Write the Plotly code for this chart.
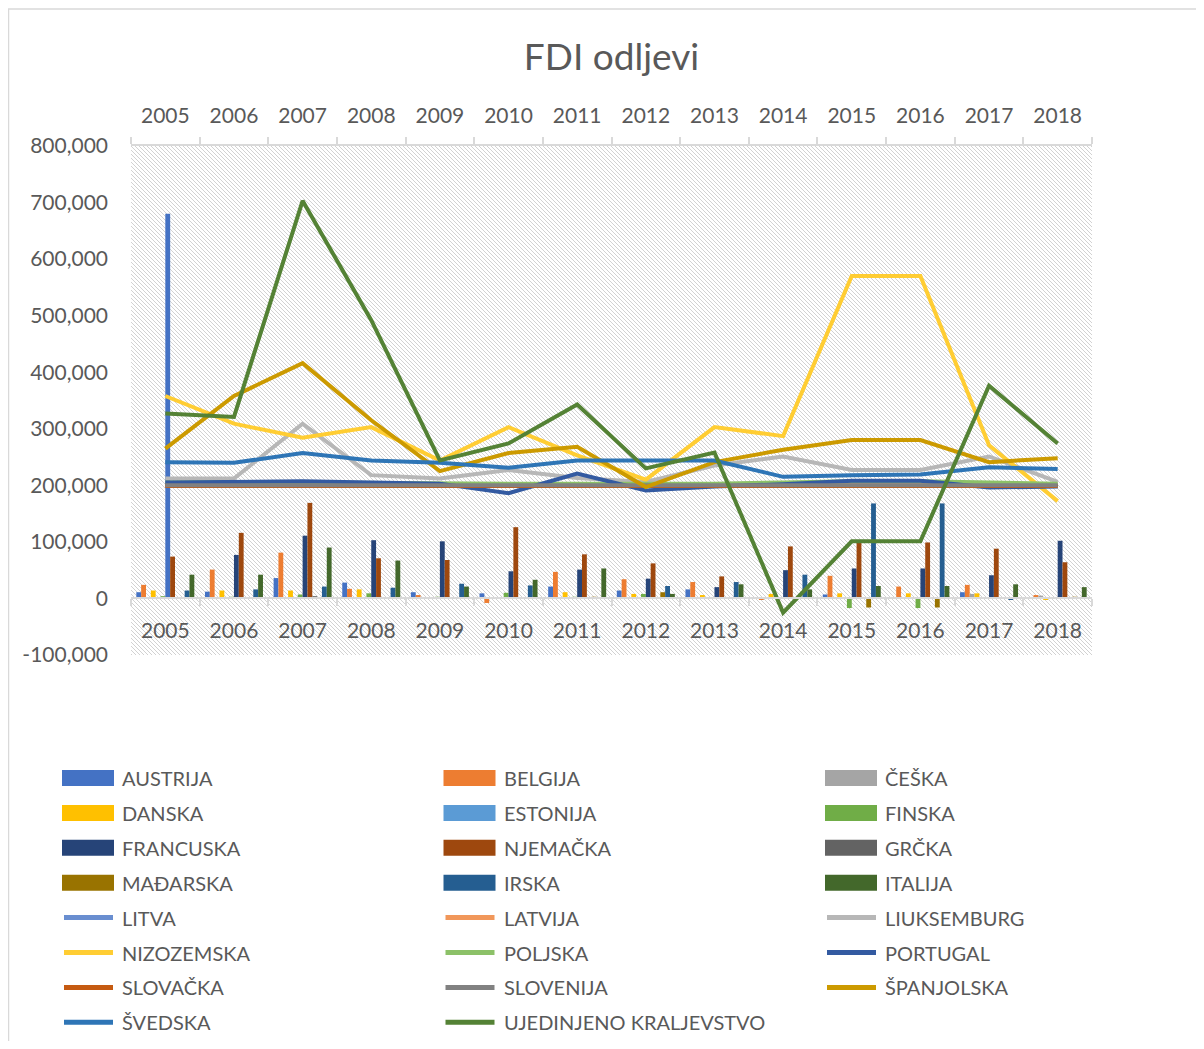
import base64
import plotly.graph_objects as go

# ---- data (thousands, scaled below) ----
years = ["2005", "2006", "2007", "2008", "2009", "2010", "2011",
         "2012", "2013", "2014", "2015", "2016", "2017", "2018"]

# clustered bars
austrija = [11, 12, 36, 28, 11, 9, 21, 14, 16, 0, 7, 0, 11, 0]
belgija = [24, 51, 81, 17, 6, -8, 47, 34, 29, -2, 40, 21, 24, 6]
ceska = [0, 0, 0, 2, 0, 0, 0, 0, 0, 0, 0, 0, 8, 5]
danska = [14, 14, 14, 16, 2, 0, 11, 8, 6, 8, 9, 9, 9, -1]
estonija = [0, 0, 0, 0, 0, 0, 0, 0, 0, 0, 0, 0, 0, 0]
finska = [4, 3, 7, 9, 3, 10, 3, 8, 1, 0, -17, -17, 0, 0]
francuska = [680, 77, 111, 103, 101, 48, 51, 35, 20, 50, 53, 53, 41, 102]
njemacka = [74, 116, 169, 71, 68, 126, 78, 62, 39, 92, 100, 99, 88, 64]
grcka = [0, 2, 4, 0, 0, 0, 0, 0, 0, 0, 0, 0, 0, 0]
madarska = [0, 2, 2, 0, 0, 0, 3, 11, 0, 0, -16, -16, 0, 3]
irska = [14, 16, 21, 19, 26, 23, 0, 22, 29, 42, 168, 168, -1, 0]
italija = [42, 42, 90, 67, 21, 33, 53, 8, 25, 16, 22, 22, 25, 20]

# lines
litva = [201, 201, 201, 201, 201, 201, 201, 201, 201, 201, 201, 201, 201, 201]
latvija = [200, 200, 200, 200, 200, 200, 200, 200, 200, 200, 200, 200, 200, 200]
liuksemburg = [212, 212, 309, 218, 212, 227, 213, 206, 235, 251, 227, 227, 251, 206]
nizozemska = [358, 309, 284, 303, 244, 303, 253, 210, 303, 287, 570, 570, 271, 172]
poljska = [205, 206, 205, 204, 203, 203, 203, 203, 203, 205, 207, 207, 205, 203]
portugal = [205, 206, 207, 205, 203, 186, 221, 191, 198, 202, 208, 208, 196, 198]
slovacka = [199, 199, 199, 199, 199, 199, 199, 199, 199, 199, 199, 199, 199, 199]
slovenija = [200, 200, 200, 200, 200, 200, 200, 200, 200, 200, 200, 200, 200, 200]
spanjolska = [265, 358, 416, 315, 225, 257, 268, 197, 241, 263, 280, 280, 241, 248]
svedska = [241, 240, 257, 244, 240, 231, 244, 244, 244, 215, 218, 219, 232, 229]
uk = [327, 321, 703, 492, 244, 274, 343, 230, 258, -25, 101, 101, 376, 274]

y_ticks = [-100000, 0, 100000, 200000, 300000, 400000, 500000, 600000, 700000, 800000]
y_ticktext = ["-100,000", "0", "100,000", "200,000", "300,000", "400,000",
              "500,000", "600,000", "700,000", "800,000"]

bar_series = [
    ("AUSTRIJA", austrija, "#4472C4"),
    ("BELGIJA", belgija, "#ED7D31"),
    ("ČEŠKA", ceska, "#A5A5A5"),
    ("DANSKA", danska, "#FFC000"),
    ("ESTONIJA", estonija, "#5B9BD5"),
    ("FINSKA", finska, "#70AD47"),
    ("FRANCUSKA", francuska, "#264478"),
    ("NJEMAČKA", njemacka, "#9E480E"),
    ("GRČKA", grcka, "#636363"),
    ("MAĐARSKA", madarska, "#997300"),
    ("IRSKA", irska, "#255E91"),
    ("ITALIJA", italija, "#43682B"),
]
line_series = [
    ("LITVA", litva, "#698ED0"),
    ("LATVIJA", latvija, "#F1975A"),
    ("LIUKSEMBURG", liuksemburg, "#B7B7B7"),
    ("NIZOZEMSKA", nizozemska, "#FFCD33"),
    ("POLJSKA", poljska, "#8CC168"),
    ("PORTUGAL", portugal, "#335AA1"),
    ("SLOVAČKA", slovacka, "#C55A11"),
    ("SLOVENIJA", slovenija, "#818181"),
    ("ŠPANJOLSKA", spanjolska, "#CC9A00"),
    ("ŠVEDSKA", svedska, "#2E75B6"),
    ("UJEDINJENO KRALJEVSTVO", uk, "#548235"),
]

FONT = "Lato"
GREY_TXT = "#595959"
AXIS_GREY = "#D9D9D9"

fig = go.Figure()

for name, vals, col in bar_series:
    colors = [col] * len(vals)
    if name == "FRANCUSKA":
        colors[0] = "#4472C4"  # the 2005 point is drawn in a lighter blue
    fig.add_trace(go.Bar(
        x=years, y=[v * 1000 for v in vals], name=name,
        marker=dict(color=colors, line_width=0),
        xaxis="x", yaxis="y",
    ))

for name, vals, col in line_series:
    fig.add_trace(go.Scatter(
        x=years, y=[v * 1000 for v in vals], name=name, mode="lines",
        line=dict(color=col, width=4),
        xaxis="x2", yaxis="y",
    ))

# sizes (page has an 8px body margin)
fig_w, fig_h = 1188, 1033
ml, mr, mt, mb = 123, 104, 138, 386
W, H = fig_w - ml - mr, fig_h - mt - mb
OFF = 8

def paper_x(px):
    return (px - OFF - ml) / W

def paper_y(py):
    return 1 - (py - OFF - mt) / H

# hatched plot-area background (Excel pattern fill)
svg = (
    f'<svg xmlns="http://www.w3.org/2000/svg" width="{W}" height="{H}">'
    '<defs><pattern id="p" width="4" height="4" patternUnits="userSpaceOnUse">'
    '<path d="M0,0 L4,4 M-1,3 L1,5 M3,-1 L5,1" stroke="#D2D2D2" stroke-width="1"/>'
    '</pattern></defs>'
    f'<rect width="{W}" height="{H}" fill="url(#p)"/></svg>'
)
src = "data:image/svg+xml;base64," + base64.b64encode(svg.encode()).decode()

shapes = [dict(type="rect", xref="paper", yref="paper",
               x0=paper_x(OFF) + 0.0005, x1=1.2, y0=-1.0, y1=paper_y(9),
               line=dict(color=AXIS_GREY, width=1.5), fillcolor="rgba(0,0,0,0)",
               layer="below")]
annotations = []

# legend laid out like Excel: 3 columns, wide swatches
legend_items = [(n, c, "bar") for n, _, c in bar_series] + \
               [(n, c, "line") for n, _, c in line_series]
col_x = [62, 443.5, 825]
row_y0, row_step = 778, 34.9
for i, (name, col, kind) in enumerate(legend_items):
    cx = col_x[i % 3]
    cy = row_y0 + (i // 3) * row_step
    if kind == "bar":
        shapes.append(dict(type="rect", xref="paper", yref="paper",
                           x0=paper_x(cx), x1=paper_x(cx + 52),
                           y0=paper_y(cy + 8), y1=paper_y(cy - 8),
                           line_width=0, fillcolor=col))
    else:
        shapes.append(dict(type="line", xref="paper", yref="paper",
                           x0=paper_x(cx + 2), x1=paper_x(cx + 51),
                           y0=paper_y(cy), y1=paper_y(cy),
                           line=dict(color=col, width=5)))
    annotations.append(dict(text=name, x=paper_x(cx + 58), y=paper_y(cy),
                            xref="paper", yref="paper", xanchor="left",
                            yanchor="middle", showarrow=False,
                            font=dict(size=20, color=GREY_TXT, family=FONT)))

zero_pos = 100000 / 900000  # where y=0 sits inside the plot area

fig.update_layout(
    width=fig_w, height=fig_h,
    margin=dict(l=ml, r=mr, t=mt, b=mb, autoexpand=False),
    paper_bgcolor="white", plot_bgcolor="white",
    font=dict(family=FONT, color=GREY_TXT, size=20),
    title=dict(text="FDI odljevi", x=0.5, xref="paper", xanchor="center",
               y=1 - 49 / fig_h, yref="container", yanchor="middle",
               font=dict(size=37, color=GREY_TXT, family=FONT)),
    barmode="group", bargap=0.155, bargroupgap=0,
    showlegend=False,
    xaxis=dict(type="category", categoryorder="array", categoryarray=years,
               range=[-0.5, 13.5], anchor="free", position=zero_pos, side="bottom",
               showline=True, linecolor=AXIS_GREY, linewidth=1.5,
               ticks="outside", tickson="boundaries", ticklen=7, tickcolor=AXIS_GREY,
               tickwidth=1.5, ticklabelstandoff=14, showgrid=False,
               tickfont=dict(size=21, color=GREY_TXT)),
    xaxis2=dict(type="category", categoryorder="array", categoryarray=years,
                range=[-0.5, 13.5], overlaying="x", side="top", anchor="y",
                showline=True, linecolor=AXIS_GREY, linewidth=1.5,
                ticks="outside", tickson="boundaries", ticklen=7, tickcolor=AXIS_GREY,
                tickwidth=1.5, ticklabelstandoff=13, showgrid=False,
                tickfont=dict(size=21, color=GREY_TXT)),
    yaxis=dict(range=[-100000, 800000], tickvals=y_ticks, ticktext=y_ticktext,
               showgrid=False, zeroline=False, showline=False, ticks="",
               ticklabelstandoff=22, tickfont=dict(size=21, color=GREY_TXT)),
    images=[dict(source=src, xref="paper", yref="paper", x=0, y=1,
                 sizex=1, sizey=1, xanchor="left", yanchor="top",
                 sizing="stretch", layer="below")],
    shapes=shapes,
    annotations=annotations,
)

fig.write_html("out.html")
